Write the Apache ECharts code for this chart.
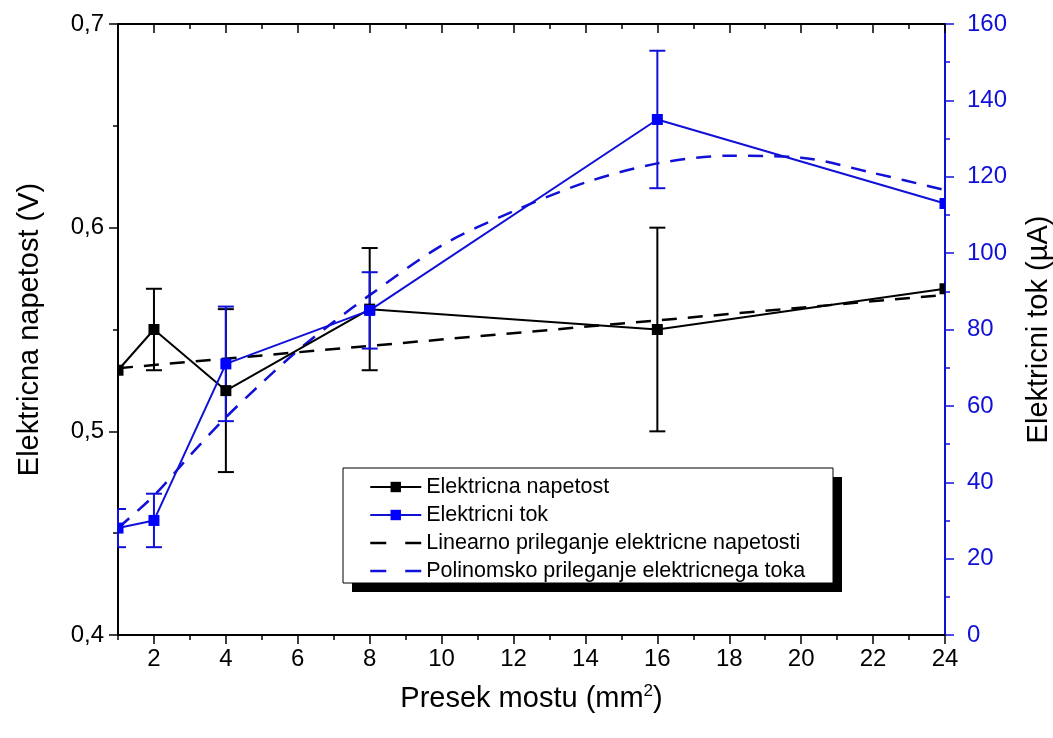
<!DOCTYPE html>
<html>
<head>
<meta charset="utf-8">
<script src="https://cdn.jsdelivr.net/npm/echarts@6/dist/echarts.min.js"></script>
<style>html,body{margin:0;padding:0;background:#fff;overflow:hidden}#c{width:1053px;height:738px}</style>
</head>
<body>
<div id="c"></div>
<script>
// ---- data ----
const xValues = [1, 2, 4, 8, 16, 24];
const voltage = [0.53, 0.55, 0.52, 0.56, 0.55, 0.57];
const voltageErr = [0, 0.02, 0.04, 0.03, 0.05, 0];
const current = [28, 30, 71, 85, 135, 113];
const currentErr = [5, 7, 15, 10, 18, 0];
const linFitX = [1, 24];
const linFitY = [0.531, 0.567];
const polyFitX = [1, 2, 3, 4, 5, 6, 7, 8, 10, 12, 14, 16, 18, 20, 22, 24];
const polyFitY = [28, 36.5, 47, 57, 66, 74.5, 82, 89, 102, 111, 118.5, 123.5, 125.5, 125, 121, 116.5];
const xMajorTicks = [2, 4, 6, 8, 10, 12, 14, 16, 18, 20, 22, 24];
const xMinorTicks = [1, 3, 5, 7, 9, 11, 13, 15, 17, 19, 21, 23];
const names = ['Elektricna napetost', 'Elektricni tok', 'Linearno prileganje elektricne napetosti', 'Polinomsko prileganje elektricnega toka'];

const BLUE = '#0000ff';
const BLUE_LINE = '#1010d8';
const FONT = 'Liberation Sans, Arial, sans-serif';
const TICK_FS = 24;
const TITLE_FS = 29;

const pairs = (xs, ys) => xs.map((x, i) => [x, ys[i]]);

function clampX(v, cs) { return Math.max(cs.x, Math.min(cs.x + cs.width, v)); }

function errSeries(ys, errs, color, yAxisIndex) {
  return {
    type: 'custom', xAxisIndex: 0, yAxisIndex: yAxisIndex, z: 4, silent: true,
    data: xValues.map((x, i) => [x, ys[i], errs[i]]),
    renderItem: function (params, api) {
      const cs = params.coordSys;
      const x = api.value(0), y = api.value(1), e = api.value(2);
      if (!e) return null;
      const top = api.coord([x, y + e]);
      const bot = api.coord([x, y - e]);
      const hw = 8;
      const l = clampX(top[0] - hw, cs), r = clampX(top[0] + hw, cs);
      const st = { stroke: color, lineWidth: 2 };
      return {
        type: 'group',
        children: [
          { type: 'line', shape: { x1: top[0], y1: top[1], x2: bot[0], y2: bot[1] }, style: st },
          { type: 'line', shape: { x1: l, y1: top[1], x2: r, y2: top[1] }, style: st },
          { type: 'line', shape: { x1: l, y1: bot[1], x2: r, y2: bot[1] }, style: st }
        ]
      };
    }
  };
}

function markerSeries(ys, color, yAxisIndex) {
  return {
    type: 'custom', xAxisIndex: 0, yAxisIndex: yAxisIndex, z: 8, silent: true,
    data: xValues.map((x, i) => [x, ys[i]]),
    renderItem: function (params, api) {
      const cs = params.coordSys;
      const p = api.coord([api.value(0), api.value(1)]);
      const h = 5.5;
      const l = clampX(p[0] - h, cs), r = clampX(p[0] + h, cs);
      return { type: 'rect', shape: { x: l, y: p[1] - h, width: r - l, height: 2 * h }, style: { fill: color } };
    }
  };
}

const chart = echarts.init(document.getElementById('c'), null, { renderer: 'canvas', width: 1053, height: 738 });

const baseX = { type: 'value', min: 1, max: 24, splitLine: { show: false } };
const noSym = { color: 'rgba(0,0,0,0)', borderWidth: 0 };

chart.setOption({
  animation: false,
  backgroundColor: '#fff',
  textStyle: { fontFamily: FONT },
  grid: { left: 118, right: 108, top: 24, bottom: 103, containLabel: false, outerBoundsMode: 'none' },
  graphic: [
    { type: 'rect', shape: { x: 352, y: 477, width: 490, height: 115 }, style: { fill: '#000' }, z: 1 },
    { type: 'rect', shape: { x: 343, y: 468, width: 490, height: 115 }, style: { fill: '#fff', stroke: '#000', lineWidth: 1 }, z: 2 }
  ],
  legend: {
    data: [
      { name: names[0] },
      { name: names[1] },
      { name: names[2], itemStyle: noSym, lineStyle: { type: [16, 19], width: 2.5 } },
      { name: names[3], itemStyle: noSym, lineStyle: { type: [16, 19], width: 2.5 } }
    ],
    orient: 'vertical',
    left: 369, top: 476,
    itemWidth: 51, itemHeight: 13,
    itemGap: 6,
    padding: 0,
    z: 10,
    textStyle: { fontSize: 21.5, color: '#000', fontFamily: FONT }
  },
  xAxis: [
    Object.assign({}, baseX, {
      position: 'bottom',
      axisLine: { show: true, lineStyle: { color: '#000', width: 2 } },
      axisTick: { show: true, customValues: xMajorTicks, length: 9, lineStyle: { width: 1.5, color: '#000' } },
      axisLabel: { customValues: xMajorTicks, fontSize: TICK_FS, color: '#000', margin: 12, fontFamily: FONT },
      name: 'Presek mostu (mm{sup|2})',
      nameLocation: 'middle', nameGap: 48,
      nameTextStyle: { fontSize: TITLE_FS, color: '#000', fontFamily: FONT,
        rich: { sup: { fontSize: 17, verticalAlign: 'top', padding: [0, 0, 15, 0], fontFamily: FONT, color: '#000' } } }
    }),
    Object.assign({}, baseX, {
      position: 'bottom',
      axisLine: { show: false },
      axisTick: { show: true, customValues: xMinorTicks, length: 5, lineStyle: { width: 1.5, color: '#000' } },
      axisLabel: { show: false }
    }),
    Object.assign({}, baseX, {
      position: 'top',
      axisLine: { show: true, lineStyle: { color: '#000', width: 2 } },
      axisTick: { show: true, inside: true, customValues: xMajorTicks, length: 9, lineStyle: { width: 1.5, color: '#000' } },
      axisLabel: { show: false }
    }),
    Object.assign({}, baseX, {
      position: 'top',
      axisLine: { show: false },
      axisTick: { show: true, inside: true, customValues: xMinorTicks, length: 5, lineStyle: { width: 1.5, color: '#000' } },
      axisLabel: { show: false }
    })
  ],
  yAxis: [
    {
      type: 'value', position: 'left', min: 0.4, max: 0.7, interval: 0.1,
      splitLine: { show: false },
      axisLine: { show: true, lineStyle: { color: '#000', width: 2 } },
      axisTick: { show: true, length: 9, lineStyle: { width: 1.5, color: '#000' } },
      minorTick: { show: true, splitNumber: 2, length: 5, lineStyle: { width: 1.5, color: '#000' } },
      axisLabel: { fontSize: TICK_FS, color: '#000', margin: 14, fontFamily: FONT,
        formatter: v => v.toFixed(1).replace('.', ',') },
      name: 'Elektricna napetost (V)', nameLocation: 'middle', nameGap: 74, nameRotate: 90,
      nameTextStyle: { fontSize: TITLE_FS, color: '#000', fontFamily: FONT }
    },
    {
      type: 'value', position: 'right', min: 0, max: 160, interval: 20,
      splitLine: { show: false },
      axisLine: { show: true, lineStyle: { color: BLUE_LINE, width: 2 } },
      axisTick: { show: true, length: 9, lineStyle: { width: 1.5, color: BLUE_LINE } },
      minorTick: { show: true, splitNumber: 2, length: 5, lineStyle: { width: 1.5, color: BLUE_LINE } },
      axisLabel: { fontSize: TICK_FS, color: BLUE_LINE, margin: 22, fontFamily: FONT },
      name: 'Elektricni tok (µA)', nameLocation: 'middle', nameGap: 79, nameRotate: 90,
      nameTextStyle: { fontSize: TITLE_FS, color: '#000', fontFamily: FONT }
    }
  ],
  series: [
    errSeries(voltage, voltageErr, '#000', 0),
    errSeries(current, currentErr, BLUE_LINE, 1),
    {
      name: names[2], type: 'line', xAxisIndex: 0, yAxisIndex: 0, z: 2,
      data: pairs(linFitX, linFitY), showSymbol: false, symbol: 'none',
      lineStyle: { color: '#000', width: 2.5, type: [15, 11] },
      itemStyle: { color: '#000' }
    },
    {
      name: names[3], type: 'line', xAxisIndex: 0, yAxisIndex: 1, z: 2,
      data: pairs(polyFitX, polyFitY), showSymbol: false, symbol: 'none', smooth: 0.3,
      lineStyle: { color: BLUE_LINE, width: 2.5, type: [15, 11] },
      itemStyle: { color: BLUE_LINE }
    },
    {
      name: names[0], type: 'line', xAxisIndex: 0, yAxisIndex: 0, z: 5,
      data: pairs(xValues, voltage), symbol: 'rect', symbolSize: 11, showSymbol: false,
      lineStyle: { color: '#000', width: 2 }, itemStyle: { color: '#000' }
    },
    {
      name: names[1], type: 'line', xAxisIndex: 0, yAxisIndex: 1, z: 6,
      data: pairs(xValues, current), symbol: 'rect', symbolSize: 11, showSymbol: false,
      lineStyle: { color: BLUE_LINE, width: 2 }, itemStyle: { color: BLUE }
    },
    markerSeries(voltage, '#000', 0),
    markerSeries(current, BLUE, 1)
  ]
});
</script>
</body>
</html>
